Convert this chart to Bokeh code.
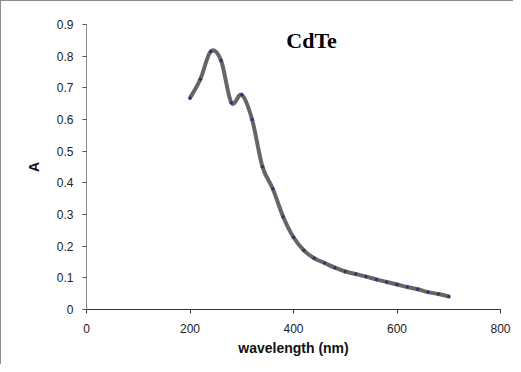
from bokeh.plotting import figure
from bokeh.models import Range1d, Label, FixedTicker
from bokeh.embed import file_html
from bokeh.resources import INLINE

wavelength = [200, 220, 240, 260, 280, 300, 320, 340, 360, 380, 400, 420, 440, 460,
              480, 500, 520, 540, 560, 580, 600, 620, 640, 660, 680, 700]
absorbance = [0.668, 0.727, 0.815, 0.786, 0.653, 0.678, 0.600, 0.451, 0.381, 0.293,
              0.228, 0.187, 0.162, 0.147, 0.132, 0.120, 0.112, 0.104, 0.095, 0.087,
              0.079, 0.071, 0.064, 0.055, 0.049, 0.041]
x_ticks = [0, 200, 400, 600, 800]
y_ticks = [0, 0.1, 0.2, 0.3, 0.4, 0.5, 0.6, 0.7, 0.8, 0.9]
y_tick_labels = {0: "0", 0.1: "0.1", 0.2: "0.2", 0.3: "0.3", 0.4: "0.4", 0.5: "0.5",
                 0.6: "0.6", 0.7: "0.7", 0.8: "0.8", 0.9: "0.9"}

p = figure(width=513, height=364, output_backend="svg", toolbar_location=None,
           x_range=Range1d(0, 800), y_range=Range1d(0, 0.9),
           min_border_left=85, min_border_right=14, min_border_top=23, min_border_bottom=56)
p.styles = {"border-left": "1px solid #8c8c8c", "border-top": "1px solid #8c8c8c"}
p.outline_line_color = None
p.xgrid.grid_line_color = None
p.ygrid.grid_line_color = None
p.background_fill_color = "white"
p.border_fill_color = "white"

# smoothed curve (Catmull-Rom style cubic segments through the data points)
n = len(wavelength)
x0, y0, x1, y1, cx0, cy0, cx1, cy1 = [], [], [], [], [], [], [], []
for i in range(n - 1):
    xp, yp = (wavelength[i - 1], absorbance[i - 1]) if i > 0 else (wavelength[i], absorbance[i])
    xa, ya = wavelength[i], absorbance[i]
    xb, yb = wavelength[i + 1], absorbance[i + 1]
    xn, yn = (wavelength[i + 2], absorbance[i + 2]) if i + 2 < n else (xb, yb)
    x0.append(xa); y0.append(ya); x1.append(xb); y1.append(yb)
    cx0.append(xa + (xb - xp) / 6); cy0.append(ya + (yb - yp) / 6)
    cx1.append(xb - (xn - xa) / 6); cy1.append(yb - (yn - ya) / 6)
p.bezier(x0=x0, y0=y0, x1=x1, y1=y1, cx0=cx0, cy0=cy0, cx1=cx1, cy1=cy1,
         line_color="#666666", line_width=4, line_cap="round")
p.scatter(wavelength, absorbance, size=3, fill_color="#2a2a80", line_color=None)

for ax in (p.xaxis[0], p.yaxis[0]):
    ax.major_label_text_font = "Liberation Sans"
    ax.major_label_text_font_size = "12px"
    ax.major_label_text_color = "#222222"
    ax.axis_label_text_font = "Liberation Sans"
    ax.axis_label_text_font_style = "bold"
    ax.axis_label_text_font_size = "14px"
    ax.axis_label_text_color = "#111111"
    ax.minor_tick_line_color = None
    ax.major_tick_in = 0
    ax.major_tick_out = 4

p.xaxis[0].ticker = FixedTicker(ticks=x_ticks)
p.yaxis[0].ticker = FixedTicker(ticks=y_ticks)
p.yaxis[0].major_label_overrides = y_tick_labels
p.xaxis[0].axis_label = "wavelength (nm)"
p.yaxis[0].axis_label = "A"
p.xaxis[0].axis_line_color = "#333333"
p.xaxis[0].major_tick_line_color = "#333333"
p.yaxis[0].axis_line_color = "#8c8c8c"
p.yaxis[0].major_tick_line_color = "#555555"
p.xaxis[0].major_label_standoff = 10
p.yaxis[0].major_label_standoff = 9
p.xaxis[0].axis_label_standoff = 4
p.yaxis[0].axis_label_standoff = 12

title = Label(x=435, y=0.85, text="CdTe", text_font="Liberation Serif",
              text_font_style="bold", text_font_size="22px", text_align="center",
              text_baseline="middle", text_color="#000000")
p.add_layout(title)

open("out.html", "w").write(file_html(p, INLINE))
